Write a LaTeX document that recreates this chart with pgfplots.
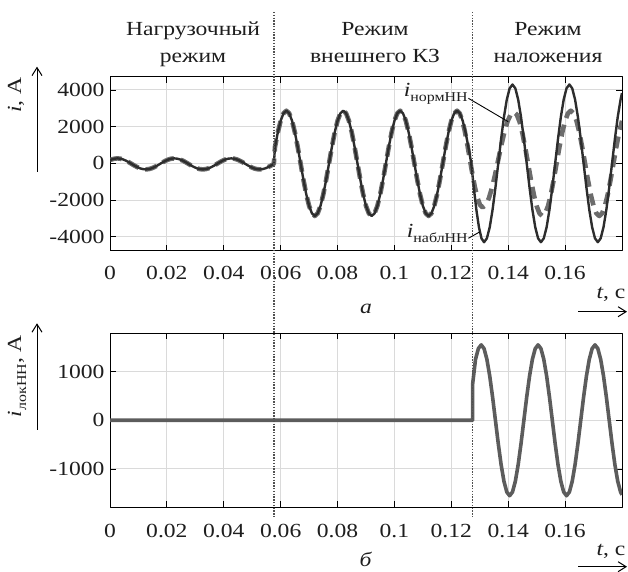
\documentclass[border=0pt]{standalone}
\usepackage{fontspec}
\setmainfont{Liberation Serif}[FakeStretch=1.18]
\usepackage{pgfplots}
\usepackage{pgfplotstable}
\pgfplotsset{compat=1.18}
\usetikzlibrary{arrows.meta}

\definecolor{gridgray}{RGB}{218,218,218}
\definecolor{curvedark}{RGB}{45,45,45}
\definecolor{curvegray}{RGB}{108,108,108}
\definecolor{lokgray}{RGB}{92,92,92}
\definecolor{dotgray}{RGB}{80,80,80}
\definecolor{textdark}{RGB}{30,30,30}

\newcommand\ticksize{\fontsize{20bp}{24bp}\selectfont}
\newcommand\titlesize{\fontsize{20bp}{24bp}\selectfont}
\newcommand\sub[1]{\raisebox{-5bp}{\fontsize{13.5bp}{15bp}\selectfont #1}}

% measured current, low-voltage side
\pgfplotstableread{
t i
0 176
0.0006 213
0.0016 255
0.0026 270
0.0036 255
0.0046 213
0.0056 146
0.0066 63
0.0076 -30
0.0086 -123
0.0096 -206
0.0106 -273
0.0116 -315
0.0126 -330
0.0136 -315
0.0146 -273
0.0156 -206
0.0166 -123
0.0176 -30
0.0186 63
0.0196 146
0.0206 213
0.0216 255
0.0226 270
0.0236 255
0.0246 213
0.0256 146
0.0266 63
0.0276 -30
0.0286 -123
0.0296 -206
0.0306 -273
0.0316 -315
0.0326 -330
0.0336 -315
0.0346 -273
0.0356 -206
0.0366 -123
0.0376 -30
0.0386 63
0.0396 146
0.0406 213
0.0416 255
0.0426 270
0.0436 255
0.0446 213
0.0456 146
0.0466 63
0.0476 -30
0.0486 -123
0.0496 -206
0.0506 -273
0.0516 -315
0.0526 -330
0.0536 -315
0.0546 -273
0.0556 -206
0.0566 -123
0.0576 -30
0.058 887
0.059 1688
0.060 2322
0.061 2729
0.062 2870
0.063 2729
0.064 2322
0.065 1688
0.066 887
0.067 0
0.068 -887
0.069 -1688
0.070 -2322
0.071 -2729
0.072 -2870
0.073 -2729
0.074 -2322
0.075 -1688
0.076 -887
0.077 0
0.078 887
0.079 1688
0.080 2322
0.081 2729
0.082 2870
0.083 2729
0.084 2322
0.085 1688
0.086 887
0.087 0
0.088 -887
0.089 -1688
0.090 -2322
0.091 -2729
0.092 -2870
0.093 -2729
0.094 -2322
0.095 -1688
0.096 -887
0.097 0
0.098 887
0.099 1688
0.100 2322
0.101 2729
0.102 2870
0.103 2729
0.104 2322
0.105 1688
0.106 887
0.107 0
0.108 -887
0.109 -1688
0.110 -2322
0.111 -2729
0.112 -2870
0.113 -2729
0.114 -2322
0.115 -1688
0.116 -887
0.117 0
0.118 887
0.119 1688
0.120 2322
0.121 2729
0.122 2870
0.123 2729
0.124 2322
0.125 1688
0.126 887
0.127 0
0.1279 -1329
0.1288 -2528
0.1297 -3479
0.1306 -4089
0.1315 -4300
0.1325 -4089
0.1335 -3479
0.1345 -2528
0.1355 -1329
0.1365 0
0.1375 1329
0.1385 2528
0.1395 3479
0.1405 4089
0.1415 4300
0.1425 4089
0.1435 3479
0.1445 2528
0.1455 1329
0.1465 0
0.1475 -1329
0.1485 -2528
0.1495 -3479
0.1505 -4089
0.1515 -4300
0.1525 -4089
0.1535 -3479
0.1545 -2528
0.1555 -1329
0.1565 0
0.1575 1329
0.1585 2528
0.1595 3479
0.1605 4089
0.1615 4300
0.1625 4089
0.1635 3479
0.1645 2528
0.1655 1329
0.1665 0
0.1675 -1329
0.1685 -2528
0.1695 -3479
0.1705 -4089
0.1715 -4300
0.1725 -4089
0.1735 -3479
0.1745 -2528
0.1755 -1329
0.1765 0
0.1775 1329
0.1785 2528
0.1795 3479
0.18 3831
}\inabl

% normal-mode current, low-voltage side
\pgfplotstableread{
t i
0 176
0.0006 213
0.0016 255
0.0026 270
0.0036 255
0.0046 213
0.0056 146
0.0066 63
0.0076 -30
0.0086 -123
0.0096 -206
0.0106 -273
0.0116 -315
0.0126 -330
0.0136 -315
0.0146 -273
0.0156 -206
0.0166 -123
0.0176 -30
0.0186 63
0.0196 146
0.0206 213
0.0216 255
0.0226 270
0.0236 255
0.0246 213
0.0256 146
0.0266 63
0.0276 -30
0.0286 -123
0.0296 -206
0.0306 -273
0.0316 -315
0.0326 -330
0.0336 -315
0.0346 -273
0.0356 -206
0.0366 -123
0.0376 -30
0.0386 63
0.0396 146
0.0406 213
0.0416 255
0.0426 270
0.0436 255
0.0446 213
0.0456 146
0.0466 63
0.0476 -30
0.0486 -123
0.0496 -206
0.0506 -273
0.0516 -315
0.0526 -330
0.0536 -315
0.0546 -273
0.0556 -206
0.0566 -123
0.0576 -30
0.058 887
0.059 1688
0.060 2322
0.061 2729
0.062 2870
0.063 2729
0.064 2322
0.065 1688
0.066 887
0.067 0
0.068 -887
0.069 -1688
0.070 -2322
0.071 -2729
0.072 -2870
0.073 -2729
0.074 -2322
0.075 -1688
0.076 -887
0.077 0
0.078 887
0.079 1688
0.080 2322
0.081 2729
0.082 2870
0.083 2729
0.084 2322
0.085 1688
0.086 887
0.087 0
0.088 -887
0.089 -1688
0.090 -2322
0.091 -2729
0.092 -2870
0.093 -2729
0.094 -2322
0.095 -1688
0.096 -887
0.097 0
0.098 887
0.099 1688
0.100 2322
0.101 2729
0.102 2870
0.103 2729
0.104 2322
0.105 1688
0.106 887
0.107 0
0.108 -887
0.109 -1688
0.110 -2322
0.111 -2729
0.112 -2870
0.113 -2729
0.114 -2322
0.115 -1688
0.116 -887
0.117 0
0.118 887
0.119 1688
0.120 2322
0.121 2729
0.122 2870
0.1229 2741
0.1238 2367
0.1247 1784
0.1256 1049
0.1265 235
0.1274 -579
0.1283 -1314
0.1292 -1897
0.1301 -2271
0.1310 -2400
0.1321 -2273
0.1332 -1903
0.1343 -1329
0.1354 -603
0.1365 200
0.1376 1003
0.1387 1729
0.1398 2303
0.1409 2673
0.1420 2800
0.1430 2661
0.1440 2259
0.1450 1632
0.1460 841
0.1470 -35
0.1480 -911
0.1490 -1702
0.1500 -2329
0.1510 -2731
0.1520 -2870
0.153 -2729
0.154 -2322
0.155 -1688
0.156 -887
0.157 0
0.158 887
0.159 1688
0.160 2322
0.161 2729
0.162 2870
0.163 2729
0.164 2322
0.165 1688
0.166 887
0.167 0
0.168 -887
0.169 -1688
0.170 -2322
0.171 -2729
0.172 -2870
0.173 -2729
0.174 -2322
0.175 -1688
0.176 -887
0.177 0
0.178 887
0.179 1688
0.180 2322
}\inorm

% local (superposed) current
\pgfplotstableread{
t i
0 0
0.1275 0
0.1275 750
0.1285 1254
0.1295 1474
0.1305 1550
0.1315 1474
0.1325 1254
0.1335 911
0.1345 479
0.1355 0
0.1365 -479
0.1375 -911
0.1385 -1254
0.1395 -1474
0.1405 -1550
0.1415 -1474
0.1425 -1254
0.1435 -911
0.1445 -479
0.1455 0
0.1465 479
0.1475 911
0.1485 1254
0.1495 1474
0.1505 1550
0.1515 1474
0.1525 1254
0.1535 911
0.1545 479
0.1555 0
0.1565 -479
0.1575 -911
0.1585 -1254
0.1595 -1474
0.1605 -1550
0.1615 -1474
0.1625 -1254
0.1635 -911
0.1645 -479
0.1655 0
0.1665 479
0.1675 911
0.1685 1254
0.1695 1474
0.1705 1550
0.1715 1474
0.1725 1254
0.1735 911
0.1745 479
0.1755 0
0.1765 -479
0.1775 -911
0.1785 -1254
0.1795 -1474
0.18 -1531
}\ilok

\pgfplotsset{
  panel/.style={
    scale only axis, width=512bp, height=174bp,
    xmin=0, xmax=0.18,
    xtick={0,0.02,0.04,0.06,0.08,0.1,0.12,0.14,0.16},
    xticklabels={0,0.02,0.04,0.06,0.08,0.1,0.12,0.14,0.16},
    tick align=inside, major tick length=6bp,
    grid=major, major grid style={gridgray, line width=1bp},
    axis line style={black, line width=1bp},
    tick style={black, line width=0.8bp},
    tick label style={font=\ticksize, text=textdark},
    yticklabel style={xshift=-2bp},
    line join=round,
  },
}

\begin{document}
\begin{tikzpicture}[x=1bp, y=1bp]
\useasboundingbox (0,0) rectangle (628bp,572bp);

% upper panel: measured and normal-mode currents
\begin{axis}[panel, at={(110bp,321.3bp)}, anchor=south west,
  ymin=-4763, ymax=4725,
  xticklabel style={yshift=-12bp},
  ytick={-4000,-2000,0,2000,4000},
  yticklabels={-4000,-2000,0,2000,4000}]
  \addplot[curvegray, line width=4.6bp, dash pattern=on 12bp off 7bp] table[x=t, y=i] {\inorm};
  \addplot[curvedark, line width=2.4bp] table[x=t, y=i] {\inabl};
  \coordinate (s1) at (axis cs:0.0576,0);
  \coordinate (s2) at (axis cs:0.1275,0);
  \draw[black, line width=0.9bp] (axis cs:0.1260,3547) -- (axis cs:0.1400,2271);
  \draw[black, line width=0.9bp] (axis cs:0.1260,-4087) -- (axis cs:0.1301,-3727);
  \node[anchor=east, inner sep=0.5bp, text=textdark] at (axis cs:0.1260,3800)
    {\fontsize{20bp}{24bp}\selectfont\textit{i}\sub{нормНН}};
  \node[anchor=east, inner sep=0.5bp, text=textdark] at (axis cs:0.1260,-3800)
    {\fontsize{20bp}{24bp}\selectfont\textit{i}\sub{наблНН}};
\end{axis}

% lower panel: local current
\begin{axis}[panel, at={(110bp,64.7bp)}, anchor=south west,
  ymin=-1788, ymax=1788,
  xticklabel style={yshift=-13bp},
  ytick={-1000,0,1000},
  yticklabels={-1000,0,1000}]
  \addplot[lokgray, line width=3.6bp] table[x=t, y=i] {\ilok};
\end{axis}

% mode boundaries
\draw[dotgray, line width=1.4bp, dash pattern=on 1.4bp off 1.4bp] (s1 |- 0,560) -- (s1 |- 0,55);
\draw[dotgray, line width=1.4bp, dash pattern=on 1.4bp off 1.4bp] (s2 |- 0,560) -- (s2 |- 0,55);

% mode titles
\begin{scope}[every node/.style={font=\titlesize, anchor=base, text=textdark}]
\node at (193,536) {Нагрузочный};
\node at (193,509.5) {режим};
\node at (375,536) {Режим};
\node at (375,509.5) {внешнего КЗ};
\node at (548,536) {Режим};
\node at (548,509.5) {наложения};
\end{scope}

% axis labels with arrows
\begin{scope}[every node/.style={font=\ticksize, inner sep=0pt, text=textdark}]
\node[rotate=90, anchor=base] at (21,477) {\textit{i}, A};
\node[rotate=90, anchor=base] at (21,196) {\textit{i}\sub{локНН}, A};
\node[anchor=base] at (611,274) {\textit{t}, с};
\node[anchor=base] at (611,17) {\textit{t}, с};
% panel captions
\node[anchor=base] at (366,259) {\textit{а}};
\node[anchor=base] at (366,6) {\textit{б}};
\end{scope}
\draw[-{Straight Barb[length=8bp, width=10bp]}, line width=1bp] (37,400.3) -- (37,505.3);
\draw[-{Straight Barb[length=8bp, width=10bp]}, line width=1bp] (37,142) -- (37,248.7);
\draw[-{Straight Barb[length=8bp, width=10bp]}, line width=1bp] (578,260.3) -- (627,260.3);
\draw[-{Straight Barb[length=8bp, width=10bp]}, line width=1bp] (578,5.3) -- (627,5.3);
\end{tikzpicture}
\end{document}
